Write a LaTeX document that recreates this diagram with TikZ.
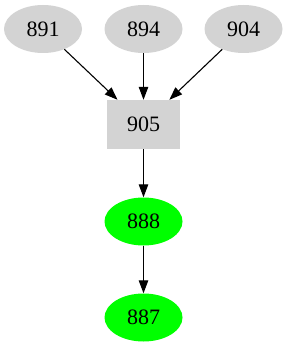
\documentclass[tikz,border=0pt]{standalone}
\usepackage{fontspec}
\setmainfont{Liberation Serif}
\usetikzlibrary{shapes.geometric,arrows.meta}
\definecolor{lgray}{RGB}{211,211,211}
\definecolor{lgreen}{RGB}{0,255,0}
\tikzset{
  ell/.style={ellipse, fill=lgray, draw=none, minimum width=78pt, minimum height=48pt, inner sep=0pt, font=\fontsize{22}{24}\selectfont},
  gell/.style={ell, fill=lgreen},
  boxnode/.style={rectangle, fill=lgray, draw=none, minimum width=73pt, minimum height=49pt, inner sep=0pt, font=\fontsize{22}{24}\selectfont},
  edge/.style={draw=black, line width=1.1pt, -{Triangle[length=13pt, width=9.5pt]}}
}
\begin{document}
\begin{tikzpicture}[x=1pt, y=-1pt]
\useasboundingbox (0,0) rectangle (287,347);
\node[ell] (n891) at (43,29) {891};
\node[ell] (n894) at (143.5,29) {894};
\node[ell] (n904) at (243.5,29) {904};
\node[boxnode] (n905) at (143.5,124.5) {905};
\node[gell] (n888) at (143.5,221.5) {888};
\node[gell] (n887) at (143.5,317.5) {887};
\draw[edge] (n891) -- (n905);
\draw[edge] (n894) -- (n905);
\draw[edge] (n904) -- (n905);
\draw[edge] (n905) -- (n888);
\draw[edge] (n888) -- (n887);
\end{tikzpicture}
\end{document}
